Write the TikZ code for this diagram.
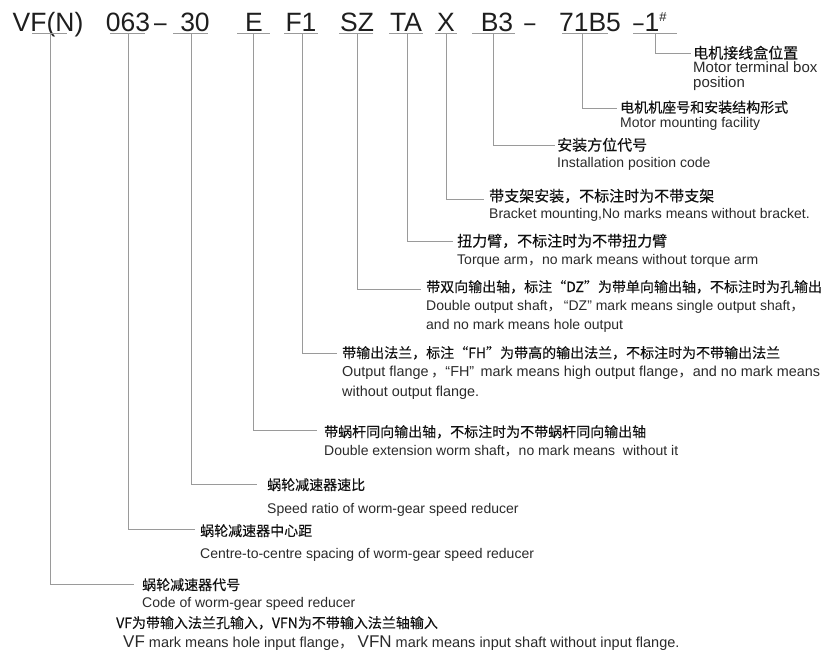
\documentclass[tikz,border=0pt]{standalone}
\usepackage{fontspec}
\setmainfont{Liberation Sans}
\newfontfamily\cjk{Noto Sans CJK SC}
\newfontfamily\cjkb[FakeBold=0.2]{Noto Sans CJK SC}
\definecolor{codecol}{HTML}{1E1E1E}
\definecolor{linecol}{HTML}{9A9A9A}
\definecolor{zhcol}{HTML}{111111}
\definecolor{encol}{HTML}{2A2A2A}
\newcommand{\zc}{{\cjk ，}}
\newcommand{\hdash}[1]{\scalebox{#1}[1]{–}}
\tikzset{
  code/.style={anchor=base, inner sep=0pt, font=\fontsize{26.5}{26.5}\selectfont, text=codecol},
  uline/.style={draw=linecol, line width=0.9pt},
  leader/.style={draw=linecol, line width=0.9pt},
  zh/.style={anchor=base west, inner sep=0pt, font=\cjkb\fontsize{14}{14}\selectfont, text=zhcol},
  zhb/.style={zh, font=\cjkb\fontsize{15}{15}\selectfont},
  en/.style={anchor=base west, inner sep=0pt, font=\fontsize{14}{14}\selectfont, text=encol},
}
\begin{document}
\begin{tikzpicture}[x=1pt,y=-1pt]
\useasboundingbox (0,0) rectangle (834,651);
% header codes
\node[code] (hVF) at (48,31.5) {VF(N)};
\node[code] (h063) at (128,31.5) {063};
\node[code] (hd1) at (160.5,31.5) {\hdash{0.85}};
\node[code] (h30) at (195,31.5) {30};
\node[code] (hE) at (254,31.5) {E};
\node[code] (hF1) at (301,31.5) {F1};
\node[code] (hSZ) at (357,31.5) {SZ};
\node[code] (hTA) at (406,31.5) {TA};
\node[code] (hX) at (446,31.5) {X};
\node[code] (hB3) at (497,31.5) {B3};
\node[code] (hd2) at (530,31.5) {\hdash{0.75}};
\node[code] (h71) at (590,31.5) {71B5};
\node[code] (hM) at (650,31.5) {\hdash{0.7}\kern1pt 1\raisebox{10pt}{\fontsize{13}{13}\selectfont\#}};
% underlines
\foreach \n/\a/\b in {VF/32/67, 063/110/145, 30/173/208, E/237/270, F1/284/318, SZ/339/373, TA/389/423, X/435/457, B3/472/515, 71/562/608, M/633/677}{
  \coordinate (ua\n) at (\a,33.5);
  \coordinate (ub\n) at (\b,33.5);
  \draw[uline] (ua\n) -- (ub\n);
}
% leader start points
\coordinate (vVF) at (50,33.5);
\coordinate (v063) at (128,33.5);
\coordinate (v30) at (191,33.5);
\coordinate (vE) at (253,33.5);
\coordinate (vF1) at (302,33.5);
\coordinate (vSZ) at (357,33.5);
\coordinate (vTA) at (407,33.5);
\coordinate (vX) at (446,33.5);
\coordinate (vB3) at (493,33.5);
\coordinate (v71) at (582,33.5);
\coordinate (vM) at (655,33.5);
% leader end points
\coordinate (eM) at (691,53);
\coordinate (e71) at (617,108);
\coordinate (eB3) at (555,145);
\coordinate (eX) at (484,199);
\coordinate (eTA) at (453,241);
\coordinate (eSZ) at (421,289);
\coordinate (eF1) at (337,353);
\coordinate (eE) at (317,430);
\coordinate (e30) at (257,484);
\coordinate (e063) at (195,529);
\coordinate (eVF) at (134,584);
\foreach \n in {M,71,B3,X,TA,SZ,F1,E,30,063,VF}{
  \draw[leader] (v\n) |- (e\n);
}
% labels
\node[zhb] (zM) at (693,58.5) {电机接线盒位置};
\node[en, font=\fontsize{15}{15}\selectfont] (enM1) at (693,72.5) {Motor terminal box};
\node[en, font=\fontsize{15}{15}\selectfont] (enM2) at (693,87) {position};

\node[zh] (z71) at (620,112.5) {电机机座号和安装结构形式};
\node[en] (en71) at (620,127) {Motor mounting facility};

\node[zhb] (zB3) at (557,150.5) {安装方位代号};
\node[en] (enB3) at (557,167) {Installation position code};

\node[zhb] (zX) at (489,201.5) {带支架安装，不标注时为不带支架};
\node[en] (enX) at (489,218) {Bracket mounting,No marks means without bracket.};

\node[zhb] (zTA) at (457,246.5) {扭力臂，不标注时为不带扭力臂};
\node[en] (enTA) at (457,264) {Torque arm\zc no mark means without torque arm};

\node[zh] (zSZ) at (426,292) {带双向输出轴，标注“DZ”为带单向输出轴，不标注时为孔输出};
\node[en] (enSZ1) at (426,310) {Double output shaft\zc \,“DZ” mark means single output shaft\zc};
\node[en] (enSZ2) at (426,329) {and no mark means hole output};

\node[zh] (zF1) at (342,358) {带输出法兰，标注“FH”为带高的输出法兰，不标注时为不带输出法兰};
\node[en, font=\fontsize{14.4}{14.4}\selectfont] (enF11) at (342,376) {Output flange\,\zc“FH”\,\ mark means high output flange\zc and no mark means};
\node[en, font=\fontsize{14.4}{14.4}\selectfont] (enF12) at (342,396) {without output flange.};

\node[zh] (zE) at (324,437) {带蜗杆同向输出轴，不标注时为不带蜗杆同向输出轴};
\node[en] (enE) at (324,455) {Double extension worm shaft\zc no mark means\ \ without it};

\node[zh] (z30) at (267,490) {蜗轮减速器速比};
\node[en] (en30) at (267,513) {Speed ratio of worm-gear speed reducer};

\node[zh] (z063) at (200,536) {蜗轮减速器中心距};
\node[en] (en063) at (200,558) {Centre-to-centre spacing of worm-gear speed reducer};

\node[zh] (zVF) at (142,590) {蜗轮减速器代号};
\node[en] (enVF) at (142,607) {Code of worm-gear speed reducer};

\node[zh] (zVF2) at (116,628) {VF为带输入法兰孔输入，VFN为不带输入法兰轴输入};
\node[en, font=\fontsize{14.5}{14.5}\selectfont] (enVF2) at (123,647) {{\fontsize{17}{17}\selectfont VF} mark means hole input flange\zc\ {\fontsize{17}{17}\selectfont VFN} mark means input shaft without input flange.};
\end{tikzpicture}
\end{document}
